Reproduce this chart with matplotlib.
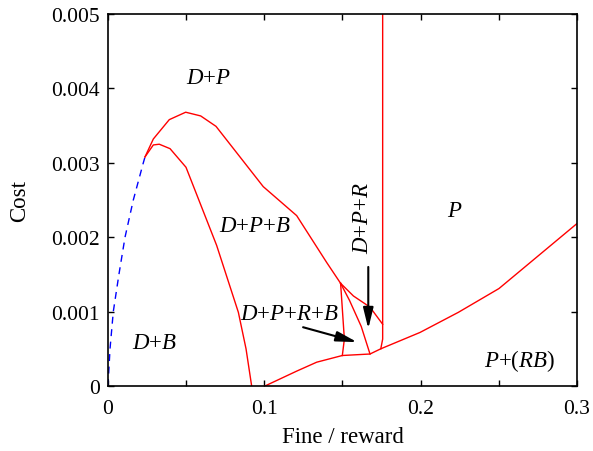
import matplotlib
matplotlib.use('Agg')
import matplotlib.pyplot as plt
from matplotlib.ticker import MultipleLocator, FormatStrFormatter

plt.rcParams['font.family'] = ['Liberation Serif', 'DejaVu Serif']
plt.rcParams['mathtext.fontset'] = 'custom'
plt.rcParams['mathtext.rm'] = 'Liberation Serif'
plt.rcParams['mathtext.it'] = 'Liberation Serif:italic'

# ── phase boundaries (fine/reward, cost) ─────────────────────────────
dash_x = [0.0, 0.0013, 0.0034, 0.007, 0.0109, 0.0162, 0.0226, 0.0237]
dash_y = [0.0, 0.0005, 0.001, 0.0015, 0.002, 0.0025, 0.003, 0.00308]

upper_x = [0.0237, 0.029, 0.0392, 0.0497, 0.0593, 0.0691, 0.0993, 0.1207, 0.1399, 0.1488]
upper_y = [0.00308, 0.00332, 0.00358, 0.00368, 0.00363, 0.00349, 0.00268, 0.00229, 0.00166, 0.00138]

hump_x = [0.0237, 0.029, 0.0328, 0.0397, 0.0499, 0.0695, 0.0834, 0.0883, 0.0919]
hump_y = [0.00308, 0.00324, 0.00325, 0.00319, 0.00294, 0.00189, 0.00099, 0.0005, 0.0]

right_x = [0.1488, 0.157, 0.1676, 0.1757]
right_y = [0.00138, 0.00121, 0.00106, 0.00083]

vert_x = [0.1757, 0.1757, 0.1757, 0.1745]
vert_y = [0.005, 0.00083, 0.00063, 0.0005]

mid_x = [0.1488, 0.1545, 0.162, 0.1676]
mid_y = [0.00138, 0.00115, 0.0008, 0.00043]

left_x = [0.1488, 0.1512, 0.1499]
left_y = [0.00138, 0.00063, 0.00041]

bottom_x = [0.1004, 0.1207, 0.1335, 0.1499, 0.1676, 0.1745, 0.1996, 0.2241, 0.2501, 0.2998]
bottom_y = [0.0, 0.0002, 0.00032, 0.00041, 0.00043, 0.0005, 0.00072, 0.00099, 0.00131, 0.00218]

# region labels: (text, x, y, rotation); {+} keeps the plus tight
regions = [
    (r'$D{+}P$', 0.0643, 0.00414, 0),
    (r'$D{+}P{+}B$', 0.094, 0.00216, 0),
    (r'$D{+}P{+}R{+}B$', 0.1158, 0.00097, 0),
    (r'$D{+}P{+}R$', 0.1627, 0.00227, 90),
    (r'$P$', 0.222, 0.00236, 0),
    (r'$P{+}(RB)$', 0.2636, 0.00035, 0),
    (r'$D{+}B$', 0.030, 0.00058, 0),
]

fig = plt.figure(figsize=(5.93, 4.52), dpi=100)
ax = fig.add_axes([0.1821, 0.1438, 0.7909, 0.823])

red = dict(color='#ff0000', lw=1.0)
ax.plot(dash_x, dash_y, color='#0000ff', lw=1.0, ls=(0, (5, 4)))
for xs, ys in [(upper_x, upper_y), (hump_x, hump_y), (right_x, right_y),
               (vert_x, vert_y), (mid_x, mid_y), (left_x, left_y),
               (bottom_x, bottom_y)]:
    ax.plot(xs, ys, **red)

for txt, x, y, rot in regions:
    ax.text(x, y, txt, fontsize=16.5, ha='center', va='center', rotation=rot)

arrow = dict(arrowstyle='-|>,head_length=0.9,head_width=0.22', color='k',
             lw=1.5, mutation_scale=14, shrinkA=0, shrinkB=0)
ax.annotate('', xy=(0.1593, 0.00059), xytext=(0.1248, 0.00079), arrowprops=arrow)
ax.annotate('', xy=(0.1665, 0.00077), xytext=(0.1665, 0.0016), arrowprops=arrow)

ax.set_xlim(0, 0.3)
ax.set_ylim(0, 0.005)
ax.xaxis.set_major_locator(MultipleLocator(0.1))
ax.xaxis.set_minor_locator(MultipleLocator(0.05))
ax.yaxis.set_major_locator(MultipleLocator(0.001))
ax.xaxis.set_major_formatter(FormatStrFormatter('%g'))
ax.yaxis.set_major_formatter(FormatStrFormatter('%g'))
ax.tick_params(which='both', direction='in', top=True, right=True,
               length=4.5, width=1.0, labelsize=15.5)
ax.tick_params(axis='x', pad=9)
ax.tick_params(axis='y', pad=6)
for sp in ax.spines.values():
    sp.set_linewidth(1.2)

ax.set_xlabel('Fine / reward', fontsize=16.5, labelpad=6)
ax.set_ylabel('Cost', fontsize=16.5, labelpad=15)

fig.savefig('out.png', dpi=100)
